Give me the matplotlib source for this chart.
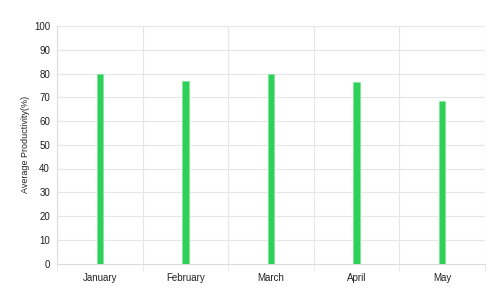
import matplotlib
matplotlib.use("Agg")
import matplotlib.pyplot as plt
import numpy as np

months = ["January", "February", "March", "April", "May"]
productivity = [80, 77, 80, 76.5, 68.4]
y_ticks = [0, 10, 20, 30, 40, 50, 60, 70, 80, 90, 100]

plt.rcParams["font.family"] = ["Liberation Sans", "DejaVu Sans"]

fig = plt.figure(figsize=(5, 3), dpi=100)
ax = fig.add_axes([57 / 500, 1 - 263.5 / 300, 428 / 500, 237.5 / 300])

x = np.arange(len(months))
ax.bar(x, productivity, width=0.075, color="#2ed158",
       edgecolor="#7fe89a", linewidth=0.6, zorder=3)

ax.set_xlim(-0.5, len(months) - 0.5)
ax.set_ylim(0, 100)
ax.set_yticks(y_ticks)
ax.set_xticks(x)
ax.set_xticklabels(months)
ax.set_xticks(np.arange(len(months) + 1) - 0.5, minor=True)

grid_color = "#e6e6e6"
ax.grid(axis="y", color=grid_color, linewidth=0.8, zorder=0)
ax.grid(axis="x", which="minor", color=grid_color, linewidth=0.8, zorder=0)

for side in ["top", "right"]:
    ax.spines[side].set_visible(False)
ax.spines["left"].set_color("#dcdcdc")
ax.spines["bottom"].set_color("#dcdcdc")

ax.tick_params(axis="x", which="major", length=0, pad=7, labelsize=7, labelcolor="#222222")
ax.tick_params(axis="x", which="minor", length=5, color=grid_color)
ax.tick_params(axis="y", length=0, pad=5, labelsize=7, labelcolor="#222222")

ax.set_ylabel("Average Productivity(%)", fontsize=6.5, color="#222222", labelpad=3)

fig.savefig("out.png", dpi=100)
